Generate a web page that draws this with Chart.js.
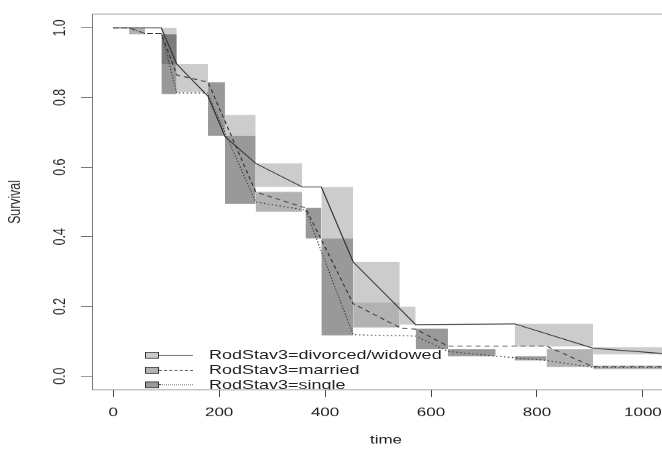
<!DOCTYPE html>
<html>
<head>
<meta charset="utf-8">
<script src="https://cdn.jsdelivr.net/npm/chart.js@4"></script>
<style>
  html, body { margin: 0; padding: 0; background: #fff; overflow: hidden; }
  #wrap { position: relative; width: 680px; height: 625px; transform: scaleY(0.72); transform-origin: 0 0; }
  #legend { position: absolute; left: 0; top: 0; width: 680px; height: 541px; overflow: hidden; pointer-events: none;
            font-family: 'Liberation Sans', Arial, sans-serif; font-size: 18px; color: #222; }
  .row { position: absolute; left: 0; height: 20px; width: 500px; }
  .box { position: absolute; left: 145px; top: 6px; width: 12px; height: 7px; border: 1px solid #333; }
  .ln { position: absolute; left: 159px; top: 10px; width: 34px; height: 0; border-top: 1px solid #444; }
  .txt { position: absolute; left: 209px; top: 0; line-height: 20px; white-space: nowrap; }
</style>
</head>
<body>
<div id="wrap">
  <canvas id="survChart" width="680" height="625"></canvas>
  <div id="legend"></div>
</div>
<script>
// tick labels
const xTicks = [0, 200, 400, 600, 800, 1000];
const yTicks = [0, 0.2, 0.4, 0.6, 0.8, 1.0];

const groupNames = ['RodStav3=divorced/widowed', 'RodStav3=married', 'RodStav3=single'];

// survival curves (time, survival)
const divTime = [0, 91, 120, 179, 211, 269, 357, 393, 453, 571, 758, 906, 1045];
const divSurv = [1, 1, 0.896, 0.804, 0.688, 0.611, 0.543, 0.543, 0.328, 0.148, 0.15, 0.08, 0.064];

const marTime = [0, 30, 60, 91, 120, 179, 269, 363, 453, 544, 571, 632, 818, 906, 1045];
const marSurv = [1, 1, 0.984, 0.984, 0.865, 0.844, 0.529, 0.483, 0.208, 0.137, 0.135, 0.086, 0.086, 0.027, 0.027];

const sinTime = [0, 30, 60, 91, 120, 178, 269, 363, 453, 571, 632, 722, 758, 818, 906, 1045];
const sinSurv = [1, 1, 0.984, 0.984, 0.813, 0.813, 0.5, 0.477, 0.119, 0.115, 0.071, 0.057, 0.053, 0.045, 0.025, 0.025];

// interval boxes per group
const divBoxStart = [91, 120, 211, 269, 393, 453, 541, 758, 906];
const divBoxEnd   = [120, 179, 269, 357, 453, 541, 571, 906, 1045];
const divBoxLow   = [0.896, 0.815, 0.69, 0.543, 0.395, 0.211, 0.148, 0.085, 0.062];
const divBoxHigh  = [1.0, 0.896, 0.75, 0.611, 0.543, 0.328, 0.2, 0.15, 0.083];

const marBoxStart = [30, 269, 453, 818, 906];
const marBoxEnd   = [60, 357, 541, 906, 1045];
const marBoxLow   = [0.982, 0.472, 0.14, 0.026, 0.02];
const marBoxHigh  = [1.0, 0.529, 0.211, 0.077, 0.03];

const sinBoxStart = [91, 179, 211, 363, 393, 571, 632, 758];
const sinBoxEnd   = [120, 211, 269, 393, 453, 632, 722, 818];
const sinBoxLow   = [0.81, 0.69, 0.495, 0.395, 0.117, 0.077, 0.057, 0.045];
const sinBoxHigh  = [0.982, 0.844, 0.69, 0.483, 0.395, 0.136, 0.077, 0.057];

const fillColors = ['rgba(0,0,0,0.2)', 'rgba(0,0,0,0.3)', 'rgba(0,0,0,0.4)'];
const dashes = [[], [5, 4], [1.5, 2.5]];
const dashCss = ['solid', 'dashed', 'dotted'];

const FONT = "'Liberation Sans', Arial, sans-serif";

function curve(times, surv, i) {
    return {
        type: 'line',
        order: 0,
        data: times.map((t, k) => ({ x: t, y: surv[k] })),
        borderColor: '#333',
        borderWidth: 1.2,
        borderDash: dashes[i],
        pointRadius: 0,
        tension: 0,
        fill: false
    };
}

function boxes(starts, ends, lows, highs, i) {
    return starts.map((s, k) => ({
        type: 'line',
        order: 1,
        data: [{ x: s, y: highs[k] }, { x: ends[k], y: highs[k] }],
        borderWidth: 0,
        pointRadius: 0,
        backgroundColor: fillColors[i],
        fill: { value: lows[k] }
    }));
}

const datasets = [
    curve(divTime, divSurv, 0),
    curve(marTime, marSurv, 1),
    curve(sinTime, sinSurv, 2),
    ...boxes(divBoxStart, divBoxEnd, divBoxLow, divBoxHigh, 0),
    ...boxes(marBoxStart, marBoxEnd, marBoxLow, marBoxHigh, 1),
    ...boxes(sinBoxStart, sinBoxEnd, sinBoxLow, sinBoxHigh, 2)
];

new Chart(document.getElementById('survChart'), {
    type: 'line',
    data: { datasets },
    options: {
        responsive: false,
        animation: false,
        devicePixelRatio: 1,
        layout: { padding: { top: 14.2, left: 0, right: 0, bottom: 0 } },
        plugins: { legend: { display: false }, tooltip: { enabled: false } },
        scales: {
            x: {
                type: 'linear', position: 'bottom', min: -40, max: 1070,
                afterBuildTicks: s => { s.ticks = xTicks.map(v => ({ value: v })); },
                afterFit: s => { s.height = 83.3; },
                ticks: { color: '#222', font: { family: FONT, size: 17 }, padding: 11.6, maxRotation: 0, callback: v => String(v) },
                grid: { drawOnChartArea: false, drawTicks: true, tickLength: 9.7, tickColor: '#444' },
                border: { display: true, color: '#777', width: 1 },
                title: { display: true, text: 'time', color: '#222', font: { family: FONT, size: 17 }, padding: { top: 0, bottom: 3.8 } }
            },
            xTop: {
                type: 'linear', axis: 'x', position: 'top', min: -40, max: 1070,
                afterFit: s => { s.height = 0; },
                ticks: { display: false },
                grid: { display: false, drawTicks: false },
                border: { display: true, color: '#777', width: 1 }
            },
            y: {
                type: 'linear', position: 'left', min: -0.04, max: 1.04,
                afterBuildTicks: s => { s.ticks = yTicks.map(v => ({ value: v })); },
                afterFit: s => { s.width = 92; },
                ticks: { color: '#222', font: { family: FONT, size: 17 }, padding: 9.2, minRotation: 90, maxRotation: 90,
                         crossAlign: 'center', callback: v => v.toFixed(1) },
                grid: { drawOnChartArea: false, drawTicks: true, tickLength: 11, tickColor: '#666' },
                border: { display: true, color: '#777', width: 1 },
                title: { display: true, text: 'Survival', color: '#222', font: { family: FONT, size: 17 }, padding: { top: 5.5, bottom: 0 } }
            }
        }
    }
});

// legend inside the plot, R style
const rowCenters = [493.3, 514.2, 534.4];
const legend = document.getElementById('legend');
groupNames.forEach((name, i) => {
    const row = document.createElement('div');
    row.className = 'row';
    row.style.top = (rowCenters[i] - 10) + 'px';
    row.innerHTML = '<div class="box" style="background:' + fillColors[i] + '"></div>' +
        '<div class="ln" style="border-top-style:' + dashCss[i] + '"></div>' +
        '<div class="txt">' + name + '</div>';
    legend.appendChild(row);
});
</script>
</body>
</html>
